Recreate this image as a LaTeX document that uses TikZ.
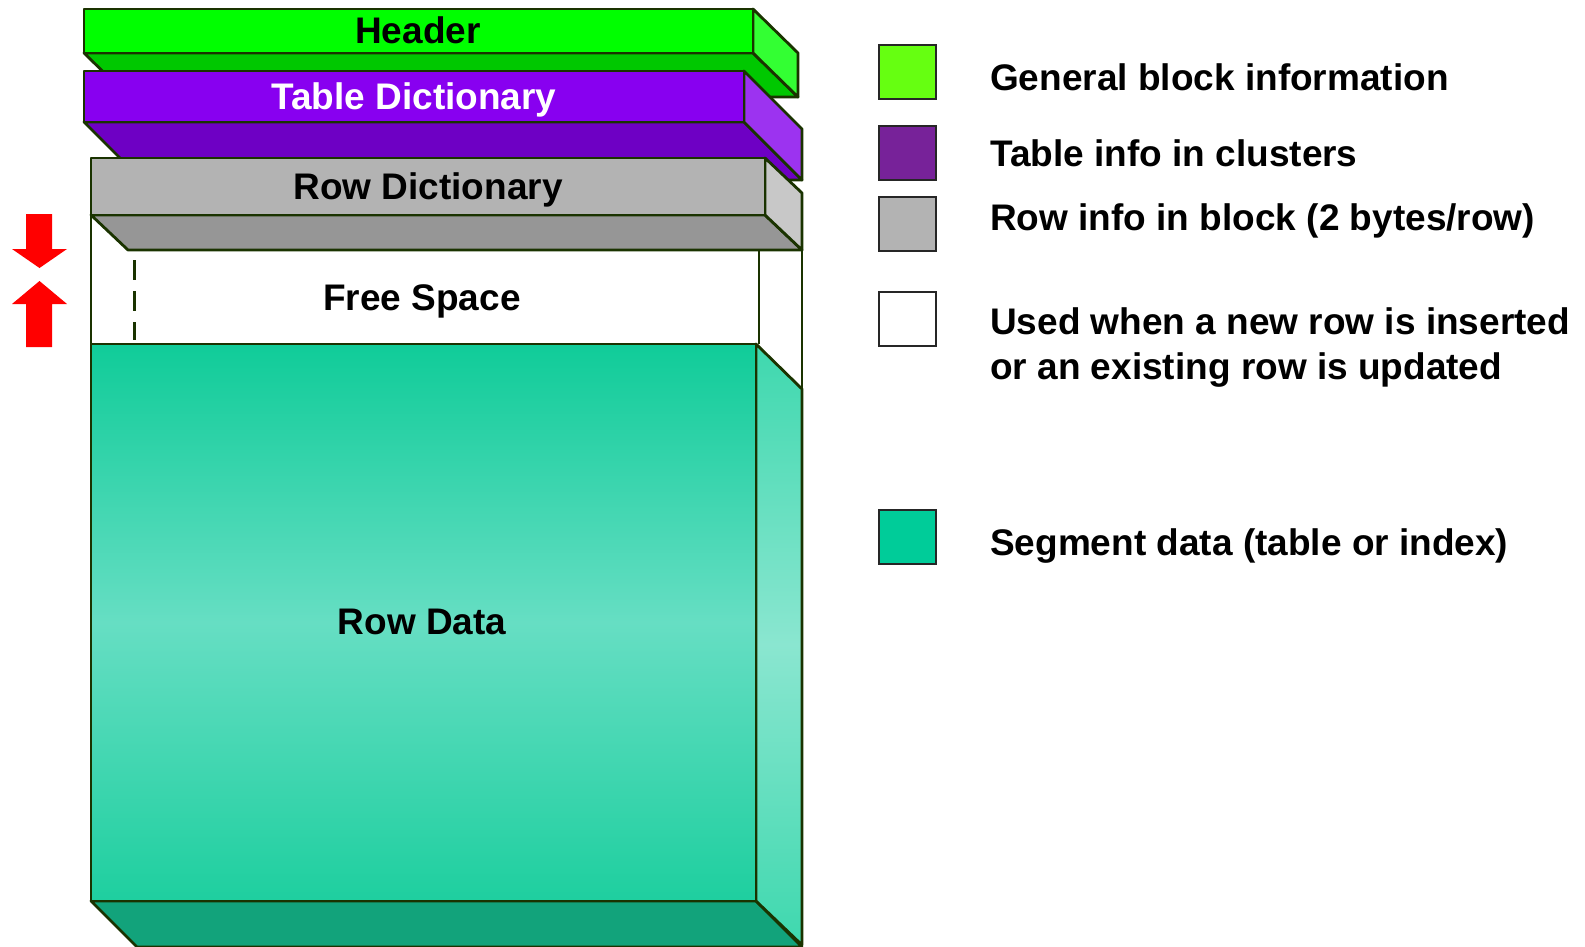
\documentclass[tikz,border=0pt]{standalone}
\usepackage{fontspec}
\setmainfont{Liberation Sans}
\usepackage{xcolor}
\usepackage{tikz}

\definecolor{edge}{HTML}{1A3300}
\definecolor{hdrfront}{HTML}{00FF00}
\definecolor{hdrside}{HTML}{33FF33}
\definecolor{hdrbottom}{HTML}{00C800}
\definecolor{tabfront}{HTML}{8800F0}
\definecolor{tabside}{HTML}{9C33F0}
\definecolor{tabbottom}{HTML}{6E00C4}
\definecolor{rowfront}{HTML}{B3B3B3}
\definecolor{rowside}{HTML}{C8C8C8}
\definecolor{rowbottom}{HTML}{969696}
\definecolor{datatop}{HTML}{10CC99}
\definecolor{datamid}{HTML}{66DEC3}
\definecolor{databot}{HTML}{1ECF9F}
\definecolor{sidetop}{HTML}{3ED8AE}
\definecolor{sidemid}{HTML}{8AE6D0}
\definecolor{datafloor}{HTML}{12A37B}
\definecolor{leggreen}{HTML}{66FF11}
\definecolor{legpurple}{HTML}{772299}
\definecolor{leggray}{HTML}{B3B3B3}
\definecolor{legteal}{HTML}{00CC99}

\tikzset{
  face/.style={draw=edge, line width=2.8pt, line join=round},
  boxlabel/.style={font=\bfseries\fontsize{37}{44}\selectfont, anchor=base, inner sep=0pt},
  legtext/.style={font=\bfseries\fontsize{37}{44}\selectfont, anchor=base west, inner sep=0pt},
  swatch/.style={draw=black!85, line width=2.6pt}
}

\begin{document}
\begin{tikzpicture}[x=1pt, y=-1pt]
\useasboundingbox (0,0) rectangle (1585,947);

% HEADER
  \draw[face, fill=hdrbottom] (84,53) -- (753,53) -- (798,97) -- (129,97) -- cycle;
  \draw[face, fill=hdrside] (753,9) -- (798,53) -- (798,97) -- (753,53) -- cycle;
  \draw[face, fill=hdrfront] (84,9) rectangle (753,53);
  \node[boxlabel] (header) at (418,44) {Header};

% TABLE DICTIONARY
  \draw[face, fill=tabbottom] (84,122) -- (744,122) -- (802,180) -- (142,180) -- cycle;
  \draw[face, fill=tabside] (744,71) -- (802,129) -- (802,180) -- (744,122) -- cycle;
  \draw[face, fill=tabfront] (84,71) rectangle (744,122);
  \node[boxlabel, text=white] (tabdict) at (414,110) {Table Dictionary};

% ROW DICTIONARY
  \draw[face, fill=rowbottom] (91,215) -- (765,215) -- (802,250) -- (128,250) -- cycle;
  \draw[face, fill=rowside] (765,158) -- (802,193) -- (802,250) -- (765,215) -- cycle;
  \draw[face, fill=rowfront] (91,158) rectangle (765,215);
  \node[boxlabel] (rowdict) at (428,199) {Row Dictionary};

% FREE SPACE
  \draw[face] (91,215) -- (91,344);
  \draw[face] (759,250) -- (759,344);
  \draw[face] (802,250) -- (802,389);
  \draw[edge, line width=3pt, dash pattern=on 20pt off 11pt] (134,260) -- (134,340);
  \node[boxlabel] (freespace) at (422,310) {Free Space};

% ROW DATA
  \draw[face, fill=datafloor] (91,901) -- (756,901) -- (802,947) -- (137,947) -- cycle;
  \draw[face, top color=sidetop, bottom color=sidetop, middle color=sidemid]
    (756,344) -- (802,389) -- (802,945) -- (756,901) -- cycle;
  \draw[face, top color=datatop, bottom color=databot, middle color=datamid]
    (91,344) rectangle (756,901);
  \node[boxlabel] (rowdata) at (422,634) {Row Data};

% arrows
  \fill[red] (26,214) -- (52,214) -- (52,249) -- (67,249) -- (39.5,268)
    -- (12,249) -- (26,249) -- cycle;
  \fill[red] (39.5,281) -- (67,304) -- (52,304) -- (52,347) -- (26,347)
    -- (26,304) -- (12,304) -- cycle;

% LEGEND
  \draw[swatch, fill=leggreen] (879,45) rectangle (936,99);
  \node[legtext] (leggen) at (990,91) {General block information};
  \draw[swatch, fill=legpurple] (879,126) rectangle (936,180);
  \node[legtext] (legtab) at (990,166) {Table info in clusters};
  \draw[swatch, fill=leggray] (879,197) rectangle (936,251);
  \node[legtext] (legrow) at (990,230) {Row info in block (2 bytes/row)};
  \draw[swatch, fill=white] (879,292) rectangle (936,346);
  \node[legtext] (legfree) at (990,334) {Used when a new row is inserted};
  \node[legtext] (legfreeb) at (990,379) {or an existing row is updated};
  \draw[swatch, fill=legteal] (879,510) rectangle (936,564);
  \node[legtext] (legseg) at (990,555) {Segment data (table or index)};

\end{tikzpicture}
\end{document}
